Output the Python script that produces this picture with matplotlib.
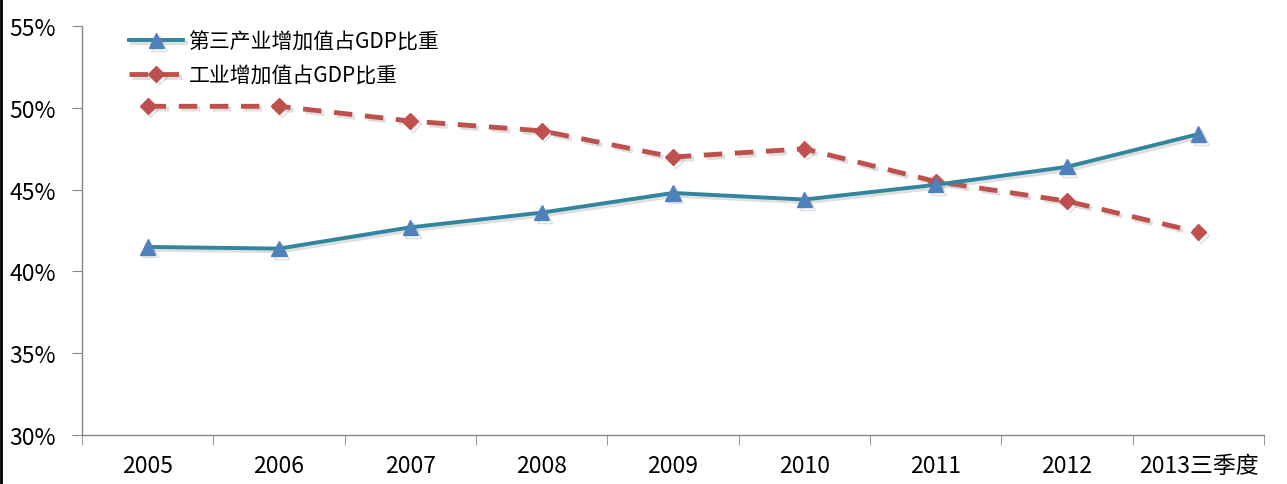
import matplotlib
matplotlib.use("Agg")
import matplotlib.pyplot as plt
import matplotlib.patheffects as pe
from matplotlib.ticker import FixedLocator, FuncFormatter

plt.rcParams['font.family'] = ['Noto Sans CJK SC', 'DejaVu Sans']

# data
years = ["2005", "2006", "2007", "2008", "2009", "2010", "2011", "2012", "2013三季度"]
tertiary = [41.5, 41.4, 42.7, 43.6, 44.8, 44.4, 45.3, 46.4, 48.4]
industry = [50.1, 50.1, 49.2, 48.6, 47.0, 47.5, 45.5, 44.3, 42.4]
yticks = [30, 35, 40, 45, 50, 55]

fig = plt.figure(figsize=(12.87, 4.85), dpi=100)
ax = fig.add_axes([0.0637, 0.101, 0.9185, 0.843])

shadow = [pe.SimpleLineShadow(offset=(2, -2), shadow_color="gray", alpha=0.25), pe.Normal()]
x = list(range(len(years)))
ax.plot(x, tertiary, color="#31859C", lw=2.8, marker="^", ms=11,
        mfc="#4F81BD", mec="#4F81BD", label="第三产业增加值占GDP比重",
        path_effects=shadow, zorder=3)
ax.plot(x, industry, color="#C0504D", lw=3.5, ls=(0, (3.8, 2.6)), marker="D", ms=8,
        mfc="#C0504D", mec="#C0504D", label="工业增加值占GDP比重",
        path_effects=shadow, zorder=2)

ax.set_xlim(-0.5, len(years) - 0.5)
ax.set_ylim(30, 55)
ax.set_yticks(yticks)
ax.yaxis.set_major_formatter(FuncFormatter(lambda v, p: "%d%%" % v))
ax.set_xticks(x)
ax.set_xticklabels(years)
ax.xaxis.set_minor_locator(FixedLocator([i - 0.5 for i in range(len(years) + 1)]))
ax.tick_params(axis="x", which="major", length=0, pad=14, labelsize=16.5)
ax.tick_params(axis="x", which="minor", length=7, color="#868686", direction="out")
ax.tick_params(axis="y", length=7, color="#868686", labelsize=16.5, pad=12)

for s in ["top", "right"]:
    ax.spines[s].set_visible(False)
for s in ["left", "bottom"]:
    ax.spines[s].set_color("#868686")
    ax.spines[s].set_linewidth(1.0)

ax.legend(loc="upper left", bbox_to_anchor=(0.024, 1.035), frameon=False,
          fontsize=15, handlelength=2.6, handletextpad=0.25, labelspacing=0.55)

fig.add_artist(plt.Line2D([0.001, 0.001], [0, 1], color="black", lw=2, transform=fig.transFigure))
fig.savefig("out.png", dpi=100)
